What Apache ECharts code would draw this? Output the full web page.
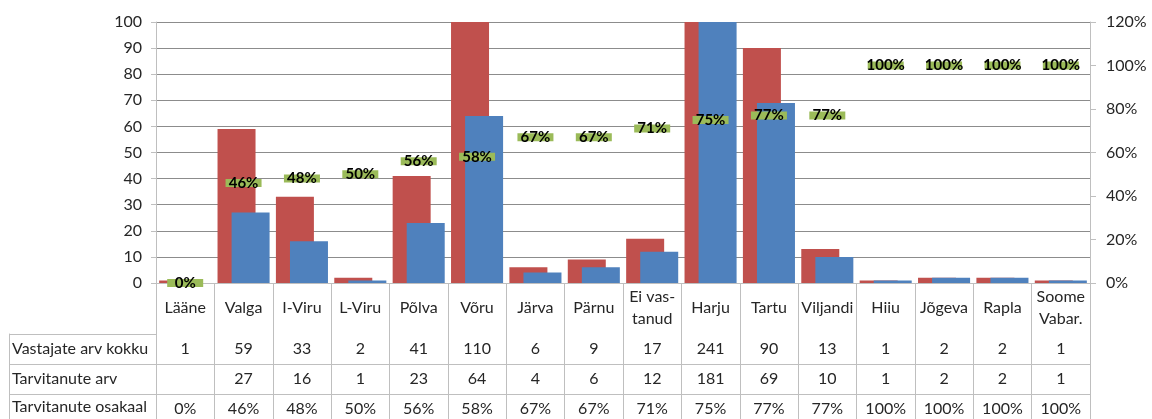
<!DOCTYPE html>
<html>
<head>
<meta charset="utf-8">
<script src="https://cdn.jsdelivr.net/npm/echarts@6/dist/echarts.min.js"></script>
<style>
html,body{margin:0;padding:0;background:#fff;}
#chart{width:1152px;height:419px;}
</style>
</head>
<body>
<div id="chart"></div>
<script>
// ---- data ----
const categories = ['Lääne','Valga','I-Viru','L-Viru','Põlva','Võru','Järva','Pärnu','Ei vas-\ntanud','Harju','Tartu','Viljandi','Hiiu','Jõgeva','Rapla','Soome\nVabar.'];
const vastajad = [1,59,33,2,41,110,6,9,17,241,90,13,1,2,2,1];
const tarvitanud = [null,27,16,1,23,64,4,6,12,181,69,10,1,2,2,1];
const osakaal = [0,0.46,0.48,0.50,0.56,0.58,0.67,0.67,0.71,0.75,0.77,0.77,1.00,1.00,1.00,1.00];
const leftTicks = {min:0, max:100, interval:10};
const rightTicks = {min:0, max:1.2, interval:0.2};
const rowNames = ['Vastajate arv kokku','Tarvitanute arv','Tarvitanute osakaal'];

const pct = v => Math.round(v*100) + '%';
const rows = [
  vastajad.map(v => v == null ? '' : String(v)),
  tarvitanud.map(v => v == null ? '' : String(v)),
  osakaal.map(pct)
];

const FONT = 'Lato';
const TXT = '#262626';
const BORDER = '#bfbfbf';
const GRIDC = '#8c8c8c';

const L = 156, R = 62;
const grids = [{left:L, right:R, top:22, height:261}];
const xAxes = [{
  type:'category', gridIndex:0, data:categories, boundaryGap:true,
  axisLine:{show:true, lineStyle:{color:BORDER}},
  axisTick:{show:true, interval:0, length:51, lineStyle:{color:BORDER}},
  axisLabel:{interval:0, margin:25, verticalAlign:'middle', color:TXT, fontFamily:FONT, fontSize:16, lineHeight:22, align:'center'},
  splitLine:{show:false}
}];
const yAxes = [
  {type:'value', gridIndex:0, position:'left', min:leftTicks.min, max:leftTicks.max, interval:leftTicks.interval,
   axisLine:{show:true, lineStyle:{color:BORDER}},
   axisTick:{show:true, length:5, lineStyle:{color:BORDER}},
   axisLabel:{margin:14, color:TXT, fontFamily:FONT, fontSize:16},
   splitLine:{show:true, lineStyle:{color:GRIDC, width:1}}},
  {type:'value', gridIndex:0, position:'right', min:rightTicks.min, max:rightTicks.max, interval:rightTicks.interval,
   axisLine:{show:true, lineStyle:{color:BORDER}},
   axisTick:{show:true, length:6, lineStyle:{color:BORDER}},
   axisLabel:{margin:16, color:TXT, fontFamily:FONT, fontSize:16, formatter:v => Math.round(v*100)+'%'},
   splitLine:{show:false}}
];

rows.forEach((row, r) => {
  const gi = r + 1;
  grids.push({left:L, right:R, top:334 + r*30, height:30});
  xAxes.push({
    type:'category', gridIndex:gi, data:categories, position:'top', boundaryGap:true,
    axisLine:{show:true, lineStyle:{color:BORDER}},
    axisTick:{show:false},
    axisLabel:{inside:true, interval:0, margin:15, verticalAlign:'middle', color:TXT, fontFamily:FONT, fontSize:16,
      formatter:(v, i) => row[i]},
    splitLine:{show:true, interval:0, lineStyle:{color:BORDER, width:1}}
  });
  yAxes.push({
    type:'category', gridIndex:gi, data:[rowNames[r]], position:'left', boundaryGap:true,
    axisLine:{show:true, lineStyle:{color:BORDER}},
    axisTick:{show:true, length:147, lineStyle:{color:BORDER}},
    axisLabel:{align:'left', margin:144, color:TXT, fontFamily:FONT, fontSize:16},
    splitLine:{show:false}
  });
  yAxes.push({
    type:'value', gridIndex:gi, position:'left', offset:147,
    axisLine:{show:true, lineStyle:{color:BORDER}},
    axisTick:{show:false}, axisLabel:{show:false}, splitLine:{show:false}
  });
});

const chart = echarts.init(document.getElementById('chart'), null, {renderer:'canvas'});
chart.setOption({
  animation:false,
  backgroundColor:'#ffffff',
  textStyle:{fontFamily:FONT},
  grid:grids,
  xAxis:xAxes,
  yAxis:yAxes,
  series:[
    {name:'Vastajate arv kokku', type:'bar', xAxisIndex:0, yAxisIndex:0, data:vastajad,
     barWidth:38, barGap:'-63%', clip:true, itemStyle:{color:'#C0504D'}},
    {name:'Tarvitanute arv', type:'bar', xAxisIndex:0, yAxisIndex:0, data:tarvitanud,
     barWidth:38, barGap:'-63%', clip:true, itemStyle:{color:'#4F81BD'}},
    {name:'Tarvitanute osakaal', type:'line', xAxisIndex:0, yAxisIndex:1, data:osakaal,
     symbol:'rect', symbolSize:[36,8], itemStyle:{color:'#9BBB59'},
     lineStyle:{width:0, opacity:0}, z:5,
     label:{show:true, position:'inside', formatter:p => pct(p.value), color:'#000', fontFamily:FONT, fontWeight:'bold', fontSize:15}}
  ]
});
</script>
</body>
</html>
